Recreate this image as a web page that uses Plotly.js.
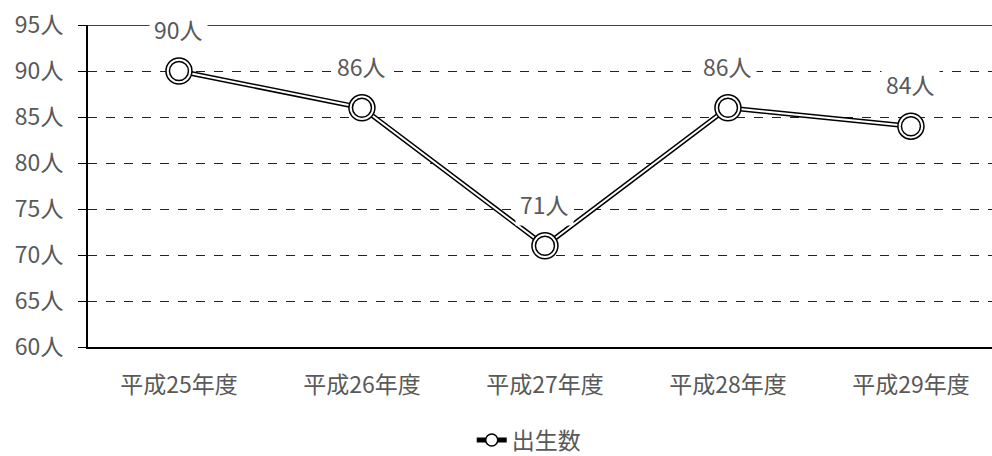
<!DOCTYPE html>
<html><head><meta charset="utf-8">
<script src="https://cdn.plot.ly/plotly-3.0.1.min.js"></script>
<style>html,body{margin:0;padding:0;background:#fff}#chart{width:992px;height:456px}</style>
</head><body><div id="chart"></div>
<script>
const categories = ['平成25年度','平成26年度','平成27年度','平成28年度','平成29年度'];
const births = [90, 86, 71, 86, 84];
const seriesName = '出生数';
const yTickVals = [60,65,70,75,80,85,90,95];
const yTickText = yTickVals.map(v => v + '人');
const labelText = births.map(v => v + '人');

const FONT = '"Noto Sans CJK JP", "Noto Sans", sans-serif';
const GRAY = '#595959';
const FS = 23;

const traces = [
  {x: categories, y: births, name: seriesName, mode: 'lines+markers', type: 'scatter',
   line: {color: '#000', width: 5}, marker: {size: 12, color: '#fff', line: {color: '#000', width: 1.5}},
   showlegend: true, hoverinfo: 'skip'},
  {x: categories, y: births, mode: 'lines', type: 'scatter',
   line: {color: '#fff', width: 2}, showlegend: false, hoverinfo: 'skip'},
  {x: categories, y: births, mode: 'markers', type: 'scatter',
   marker: {size: 26, color: '#fff', line: {color: '#000', width: 1.5}}, showlegend: false, hoverinfo: 'skip'},
  {x: categories, y: births, mode: 'markers', type: 'scatter',
   marker: {size: 19, color: '#fff', line: {color: '#000', width: 1.5}}, showlegend: false, hoverinfo: 'skip'}
];

const annotations = categories.map((c, i) => ({
  x: c, y: births[i], xref: 'x', yref: 'y', text: labelText[i], showarrow: false,
  yshift: 42, bgcolor: '#fff', borderpad: 4, font: {family: FONT, size: FS, color: GRAY}
}));

const layout = {
  width: 992, height: 456,
  margin: {l: 88, r: 0, t: 25, b: 109, autoexpand: false},
  paper_bgcolor: '#fff', plot_bgcolor: '#fff',
  font: {family: FONT, size: FS, color: GRAY},
  xaxis: {type: 'category', range: [-0.497, 4.443], showgrid: false, zeroline: false, automargin: false,
          showline: true, linecolor: '#000', linewidth: 2, ticks: '', ticklabelstandoff: 16,
          tickfont: {family: FONT, size: FS, color: GRAY}},
  yaxis: {range: [60, 95], tickvals: yTickVals, ticktext: yTickText, showgrid: true, automargin: false,
          gridcolor: '#222', griddash: 'dash', gridwidth: 1, zeroline: false,
          showline: true, linecolor: '#000', linewidth: 2, ticks: 'outside', ticklen: 8,
          tickcolor: '#000', ticklabelstandoff: 10, tickfont: {family: FONT, size: FS, color: GRAY}},
  shapes: [{type: 'line', xref: 'paper', yref: 'y', x0: -0.009, x1: 1, y0: 95, y1: 95,
            line: {color: '#000', width: 1.5}, layer: 'below'}],
  annotations: annotations,
  showlegend: true,
  legend: {orientation: 'h', x: 0.533, xanchor: 'center', xref: 'container', yref: 'container',
           y: 0.035, yanchor: 'middle',
           font: {family: FONT, size: FS, color: GRAY}, itemwidth: 30}
};

Plotly.newPlot('chart', traces, layout, {displayModeBar: false, staticPlot: true});
</script></body></html>
